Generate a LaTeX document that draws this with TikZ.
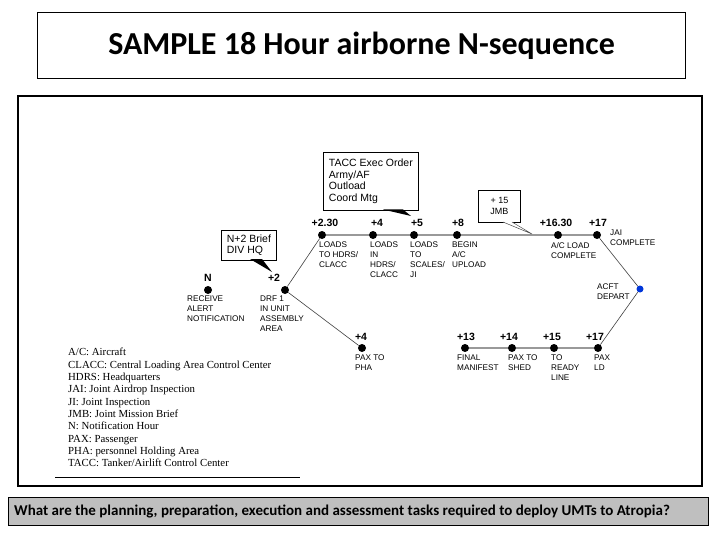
\documentclass[tikz,border=0pt]{standalone}
\usepackage{fontspec}
\setmainfont{Liberation Sans}
\newfontfamily\calibri{Carlito}
\newfontfamily\legendserif{Liberation Serif}
\begin{document}
\begin{tikzpicture}[x=1pt,y=-1pt,
  dot/.style={circle,fill=black,inner sep=0pt,minimum size=8pt},
  bluedot/.style={circle,fill=blue!75!cyan!85!black,inner sep=0pt,minimum size=7pt},
  tlabel/.style={font=\bfseries\fontsize{10.5}{12}\selectfont,inner sep=0pt},
  desc/.style={font=\fontsize{8.2}{10}\selectfont,align=left,anchor=north west,inner sep=0pt},
  callout/.style={draw=black,line width=0.8pt,fill=white,anchor=north west,inner xsep=4pt,inner ysep=0pt,align=left,font=\fontsize{10.5}{11.5}\selectfont},
  grayline/.style={draw=black!40,line width=1.6pt},
  thinline/.style={draw=black!75,line width=0.6pt},
  frame/.style={draw=black,line width=1.1pt}]
\useasboundingbox (0,0) rectangle (720,540);
\fill[white] (0,0) rectangle (720,540);

% title and frames
\node[frame,minimum width=648pt,minimum height=66pt,anchor=north west,inner sep=0pt,
      font=\calibri\bfseries\fontsize{32}{36}\selectfont] (title) at (37,12) {SAMPLE 18 Hour airborne N-sequence};
\draw[frame] (18,96) rectangle (702,486);
\node[frame,fill=black!25,minimum width=700pt,minimum height=28pt,anchor=north west,inner sep=0pt] (qbox) at (8,497) {};
\node[anchor=west,inner sep=0pt,font=\calibri\bfseries\fontsize{15}{17}\selectfont] (qtext) at (14,511)
  {What are the planning, preparation, execution and assessment tasks required to deploy UMTs to Atropia?};

% dots
\node[dot] (n0) at (208,290) {};
\node[dot] (n2) at (285,290) {};
\node[dot] (t230) at (322,235) {};
\node[dot] (t4) at (373,235) {};
\node[dot] (t5) at (414,235) {};
\node[dot] (t8) at (457,235) {};
\node[dot] (t1630) at (558,235) {};
\node[dot] (t17a) at (597,235) {};
\node[bluedot] (acft) at (640,289) {};
\node[dot] (b4) at (362,348) {};
\node[dot] (b13) at (465,348) {};
\node[dot] (b14) at (512,348) {};
\node[dot] (b15) at (554,348) {};
\node[dot] (b17) at (598,348) {};

% connectors
\draw[thinline] (n2) -- (t230);
\draw[thinline] (n2) -- (b4);
\draw[grayline] (t230) -- (t4) -- (t5) -- (t8) -- (t1630) -- (t17a);
\draw[grayline] (b13) -- (b14) -- (b15) -- (b17);
\draw[thinline] (t17a) -- (acft);
\draw[thinline] (b17) -- (acft);

% time labels
\node[tlabel] (ln0) at (208,278) {N};
\node[tlabel] (ln2) at (274,278) {+2};
\node[tlabel] (l230) at (325,223) {+2.30};
\node[tlabel] (l4) at (377,223) {+4};
\node[tlabel] (l5) at (417,223) {+5};
\node[tlabel] (l8) at (458,223) {+8};
\node[tlabel] (l1630) at (556,223) {+16.30};
\node[tlabel] (l17a) at (598,223) {+17};
\node[tlabel] (lb4) at (361,337) {+4};
\node[tlabel] (lb13) at (466,337) {+13};
\node[tlabel] (lb14) at (509,337) {+14};
\node[tlabel] (lb15) at (552,337) {+15};
\node[tlabel] (lb17) at (595,337) {+17};

% descriptions
\node[desc] (dn0) at (187,296) {RECEIVE\\ALERT\\NOTIFICATION};
\node[desc] (dn2) at (260,296) {DRF 1\\IN UNIT\\ASSEMBLY\\AREA};
\node[desc] (d230) at (319,242) {LOADS\\TO HDRS/\\CLACC};
\node[desc] (d4) at (370,242) {LOADS\\IN\\HDRS/\\CLACC};
\node[desc] (d5) at (410,242) {LOADS\\TO\\SCALES/\\JI};
\node[desc] (d8) at (452,242) {BEGIN\\A/C\\UPLOAD};
\node[desc] (d1630) at (551,242) {A/C LOAD\\COMPLETE};
\node[desc] (d17a) at (610,230) {JAI\\COMPLETE};
\node[desc] (dacft) at (597,284) {ACFT\\DEPART};
\node[desc] (db4) at (355,355) {PAX TO\\PHA};
\node[desc] (db13) at (457,355) {FINAL\\MANIFEST};
\node[desc] (db14) at (508,355) {PAX TO\\SHED};
\node[desc] (db15) at (551,355) {TO\\READY\\LINE};
\node[desc] (db17) at (594,355) {PAX\\LD};

% callouts
\node[callout,minimum width=95pt,minimum height=58pt] (tacc) at (323,152)
  {TACC Exec Order\\Army/AF\\Outload\\Coord Mtg};
\fill[black] (383,209.5) -- (403,209.5) -- (411,216) -- cycle;
\node[callout,minimum width=55pt,minimum height=30pt] (brief) at (221,230)
  {N+2 Brief\\DIV HQ};
\fill[black] (250,259) -- (262,259) -- (272,272) -- cycle;
\node[draw=black,line width=0.8pt,fill=white,anchor=north west,minimum width=42pt,minimum height=32pt,
      inner sep=0pt,align=center,font=\fontsize{9}{11}\selectfont] (jmb) at (478,190) {+ 15\\JMB};
\filldraw[fill=white,draw=black!70,line width=0.5pt] (503,222) -- (532,234) -- (512,222);

% legend
\node[anchor=north west,inner sep=0pt,align=left,font=\legendserif\fontsize{10.8}{12.35}\selectfont] (legend) at (68,348)
  {A/C: Aircraft\\
   CLACC: Central Loading Area Control Center\\
   HDRS: Headquarters\\
   JAI: Joint Airdrop Inspection\\
   JI: Joint Inspection\\
   JMB: Joint Mission Brief\\
   N: Notification Hour\\
   PAX: Passenger\\
   PHA: personnel Holding Area\\
   TACC: Tanker/Airlift Control Center};
\draw[line width=0.8pt] (55,477) -- (300,477);
\end{tikzpicture}
\end{document}
